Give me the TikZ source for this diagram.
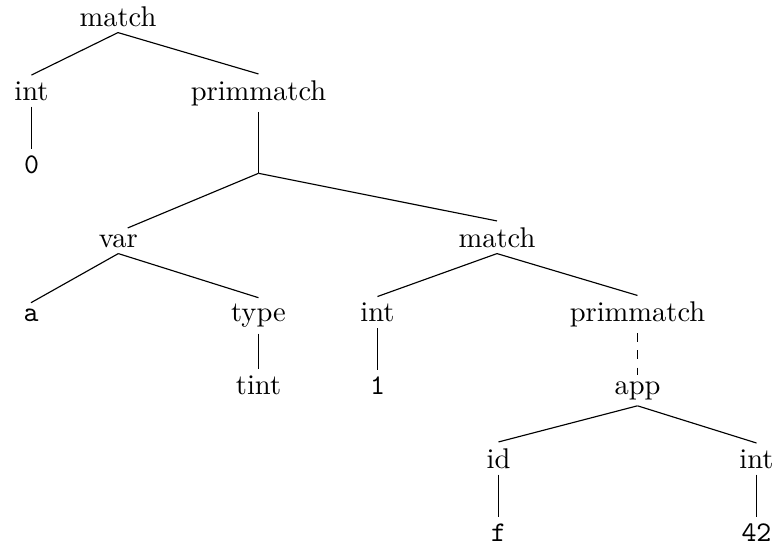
\documentclass[tikz,border=0pt]{standalone}
\begin{document}
\begin{tikzpicture}[x=0.3509pt,y=-0.3509pt,
  lbl/.style={anchor=base,inner sep=2pt,font=\rmfamily},
  code/.style={anchor=base,inner sep=2pt,font=\ttfamily},
  edge/.style={draw=black,line width=0.4pt}]
\useasboundingbox (0,0) rectangle (776,549);
% level 1
\node[lbl] (m1) at (118,26) {match};
% level 2
\node[lbl] (i1) at (31.5,100) {int};
\node[lbl] (p1) at (258.5,100) {primmatch};
% level 3
\node[code] (z0) at (31.5,173) {0};
\coordinate (j) at (258.5,173.3);
% level 4
\node[lbl] (v1) at (118.3,247) {var};
\node[lbl] (m2) at (497,247) {match};
% level 5
\node[code] (a1) at (31,321.5) {a};
\node[lbl] (t1) at (258.5,321.5) {type};
\node[lbl] (i2) at (377.5,321.5) {int};
\node[lbl] (p2) at (637.5,321.5) {primmatch};
% level 6
\node[lbl] (t2) at (258.5,394) {tint};
\node[code] (o1) at (377.5,394) {1};
\node[lbl] (ap) at (637.5,394) {app};
% level 7
\node[lbl] (id) at (498.5,468) {id};
\node[lbl] (i3) at (756.5,468) {int};
% level 8
\node[code] (f1) at (498.5,541) {f};
\node[code] (n42) at (756.5,541) {42};
% edges
\draw[edge] (m1.south) -- (i1.north);
\draw[edge] (m1.south) -- (p1.north);
\draw[edge] (i1.south) -- (z0.north);
\draw[edge] (p1.south) -- (j);
\draw[edge] (j) -- ([xshift=3.3pt]v1.north);
\draw[edge] (j) -- (m2.north);
\draw[edge] (v1.south) -- (a1.north);
\draw[edge] (v1.south) -- (t1.north);
\draw[edge] (t1.south) -- (t2.north);
\draw[edge] (m2.south) -- (i2.north);
\draw[edge] (m2.south) -- (p2.north);
\draw[edge] (i2.south) -- (o1.north);
\draw[edge,dashed] (p2.south) -- (ap.north);
\draw[edge] (ap.south) -- (id.north);
\draw[edge] (ap.south) -- (i3.north);
\draw[edge] (id.south) -- (f1.north);
\draw[edge] (i3.south) -- (n42.north);
\end{tikzpicture}
\end{document}
